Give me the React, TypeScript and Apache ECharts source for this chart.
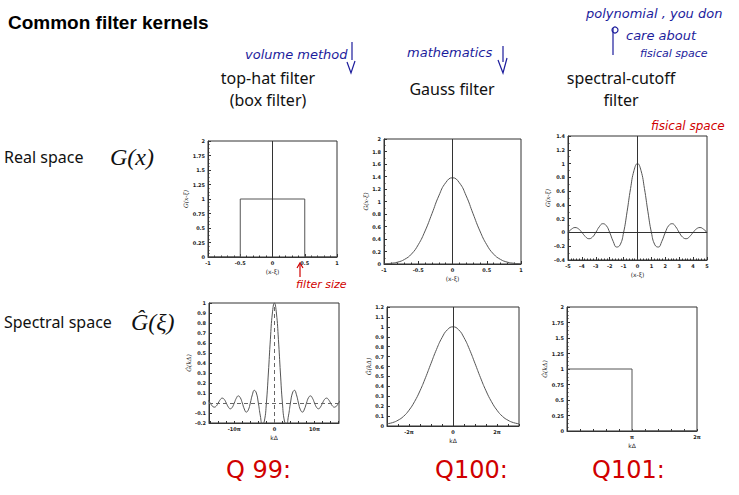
import React, { useEffect, useRef } from "react";
import * as echarts from "echarts";

// ---------- data ----------
// top-hat filter, real space
const topHatX = [-1, -0.5, -0.5, 0.5, 0.5, 1];
const topHatY = [0, 0, 1, 1, 0, 0];
// Gauss filter, real space
const gaussRealX = [-1, -0.9, -0.8, -0.7, -0.6, -0.5, -0.4, -0.3, -0.2, -0.1, 0, 0.1, 0.2, 0.3, 0.4, 0.5, 0.6, 0.7, 0.8, 0.9, 1];
const gaussRealY = [0.003, 0.011, 0.03, 0.074, 0.158, 0.308, 0.529, 0.805, 1.09, 1.3, 1.38, 1.3, 1.09, 0.805, 0.529, 0.308, 0.158, 0.074, 0.03, 0.011, 0.003];
// spectral cutoff, real space
const sincRealX = [-5, -4.75, -4.5, -4.25, -4, -3.75, -3.5, -3.25, -3, -2.75, -2.5, -2.25, -2, -1.75, -1.5, -1.25, -1, -0.75, -0.5, -0.25, 0, 0.25, 0.5, 0.75, 1, 1.25, 1.5, 1.75, 2, 2.25, 2.5, 2.75, 3, 3.25, 3.5, 3.75, 4, 4.25, 4.5, 4.75, 5];
const sincRealY = [0, 0.047, 0.071, 0.053, 0, -0.06, -0.091, -0.069, 0, 0.082, 0.127, 0.1, 0, -0.129, -0.212, -0.18, 0, 0.3, 0.637, 0.9, 1, 0.9, 0.637, 0.3, 0, -0.18, -0.212, -0.129, 0, 0.1, 0.127, 0.082, 0, -0.069, -0.091, -0.06, 0, 0.053, 0.071, 0.047, 0];
// top-hat, spectral space (x in units of pi)
const topHatSpecX = [-16.5, -16, -15.5, -15, -14.5, -14, -13.5, -13, -12.5, -12, -11.5, -11, -10.5, -10, -9.5, -9, -8.5, -8, -7.5, -7, -6.5, -6, -5.5, -5, -4.5, -4, -3.5, -3, -2.5, -2, -1.5, -1, -0.5, 0, 0.5, 1, 1.5, 2, 2.5, 3, 3.5, 4, 4.5, 5, 5.5, 6, 6.5, 7, 7.5, 8, 8.5, 9, 9.5, 10, 10.5, 11, 11.5, 12, 12.5, 13, 13.5, 14, 14.5, 15, 15.5, 16, 16.5];
const topHatSpecY = [0.027, 0, -0.029, -0.042, -0.031, 0, 0.033, 0.049, 0.036, 0, -0.039, -0.058, -0.043, 0, 0.047, 0.071, 0.053, 0, -0.06, -0.091, -0.069, 0, 0.082, 0.127, 0.1, 0, -0.129, -0.212, -0.18, 0, 0.3, 0.637, 0.9, 1, 0.9, 0.637, 0.3, 0, -0.18, -0.212, -0.129, 0, 0.1, 0.127, 0.082, 0, -0.069, -0.091, -0.06, 0, 0.053, 0.071, 0.047, 0, -0.043, -0.058, -0.039, 0, 0.036, 0.049, 0.033, 0, -0.031, -0.042, -0.029, 0, 0.027];
// Gauss, spectral space (x in units of pi)
const gaussSpecX = [-3, -2.75, -2.5, -2.25, -2, -1.75, -1.5, -1.25, -1, -0.75, -0.5, -0.25, 0, 0.25, 0.5, 0.75, 1, 1.25, 1.5, 1.75, 2, 2.25, 2.5, 2.75, 3];
const gaussSpecY = [0.022, 0.034, 0.058, 0.097, 0.159, 0.245, 0.355, 0.487, 0.631, 0.772, 0.891, 0.972, 1, 0.972, 0.891, 0.772, 0.631, 0.487, 0.355, 0.245, 0.159, 0.097, 0.058, 0.034, 0.022];
// spectral cutoff, spectral space (x in units of pi)
const cutoffSpecX = [0, 1, 1, 2];
const cutoffSpecY = [1, 1, 0, 0];

// tick labels
const specTicks4 = [-10, 0, 10];
const specLabels4 = ["-10π", "0", "10π"];
const specTicks5 = [-2, 0, 2];
const specLabels5 = ["-2π", "0", "2π"];
const specTicks6 = [1, 2];
const specLabels6 = ["π", "2π"];

const headers = [
  { lines: ["top-hat filter", "(box filter)"], x: 268 },
  { lines: ["Gauss filter"], x: 452 },
  { lines: ["spectral-cutoff", "filter"], x: 621 },
];

const grids = [
  { left: 208, top: 141, width: 129, height: 116 },
  { left: 384, top: 139, width: 137, height: 125 },
  { left: 568, top: 136, width: 139, height: 124 },
  { left: 209, top: 303, width: 130, height: 120 },
  { left: 387, top: 307, width: 132, height: 119 },
  { left: 567, top: 307, width: 130, height: 124 },
];

const pair = (xs: number[], ys: number[]) => xs.map((x, i) => [x, ys[i]]);

const FRAME = "#333";
const CURVE = "#555";
const BLUE = "#1c1c9c";
const RED = "#d00000";

function xAxis(i: number, o: any) {
  return {
    gridIndex: i,
    type: "value",
    nameLocation: "middle",
    nameGap: 11,
    nameTextStyle: { fontSize: 6, color: "#222", fontFamily: "DejaVu Sans" },
    axisLine: { show: true, onZero: false, lineStyle: { color: FRAME, width: 1 } },
    axisTick: { show: true, inside: true, length: 3, lineStyle: { color: FRAME } },
    minorTick: { show: true, splitNumber: 5, length: 1.5, lineStyle: { color: FRAME } },
    splitLine: { show: false },
    axisLabel: { fontSize: 5, color: "#222", margin: 3, fontFamily: "DejaVu Sans", fontWeight: "bold" },
    ...o,
  };
}
function yAxis(i: number, o: any) {
  return {
    gridIndex: i,
    type: "value",
    nameLocation: "middle",
    nameGap: 15,
    nameRotate: 90,
    nameTextStyle: { fontSize: 6, color: "#222", fontFamily: "DejaVu Serif", fontStyle: "italic" },
    axisLine: { show: true, onZero: false, lineStyle: { color: FRAME, width: 1 } },
    axisTick: { show: true, inside: true, length: 3, lineStyle: { color: FRAME } },
    minorTick: { show: true, splitNumber: 4, length: 1.5, lineStyle: { color: FRAME } },
    splitLine: { show: false },
    axisLabel: { fontSize: 5, color: "#222", margin: 3, fontFamily: "DejaVu Sans", fontWeight: "bold" },
    ...o,
  };
}

function lineSeries(i: number, data: number[][], smooth: boolean, mark?: any) {
  const s: any = {
    type: "line",
    xAxisIndex: i,
    yAxisIndex: i,
    data,
    smooth,
    symbol: "none",
    clip: true,
    lineStyle: { color: CURVE, width: 1 },
  };
  if (mark) {
    s.markLine = {
      silent: true,
      symbol: "none",
      label: { show: false },
      lineStyle: { color: FRAME, width: 1, type: "solid" },
      data: mark,
    };
  }
  return s;
}

export default function App() {
  const ref = useRef<HTMLDivElement>(null);
  useEffect(() => {
    if (!ref.current) return;
    const chart = echarts.init(ref.current, null, { renderer: "svg" });
    const custom = (vals: number[], labels: string[]) => ({
      axisLabel: {
        fontSize: 5, color: "#222", margin: 3, fontFamily: "DejaVu Sans", fontWeight: "bold",
        customValues: vals,
        formatter: (v: number) => labels[vals.indexOf(v)] ?? "",
      },
    });
    const graphic: any[] = [];
    const txt = (text: string, x: number, y: number, style: any) =>
      graphic.push({ type: "text", x, y, silent: true, style: { text, textVerticalAlign: "middle", ...style } });
    const ln = (x1: number, y1: number, x2: number, y2: number, color: string) =>
      graphic.push({ type: "line", silent: true, shape: { x1, y1, x2, y2 }, style: { stroke: color, lineWidth: 1.2 } });
    const poly = (points: number[][], color: string) =>
      graphic.push({ type: "polyline", silent: true, shape: { points }, style: { stroke: color, lineWidth: 1.2, fill: null } });

    txt("Common filter kernels", 8, 22, { fontSize: 19, fontWeight: "bold", fontFamily: "Liberation Sans", fill: "#000" });
    headers.forEach((h) => {
      if (h.lines.length === 2) {
        txt(h.lines[0], h.x, 78, { fontSize: 16, fontFamily: "Noto Sans", fill: "#111", textAlign: "center" });
        txt(h.lines[1], h.x, 100, { fontSize: 16, fontFamily: "Noto Sans", fill: "#111", textAlign: "center" });
      } else {
        txt(h.lines[0], h.x, 89, { fontSize: 16, fontFamily: "Noto Sans", fill: "#111", textAlign: "center" });
      }
    });
    txt("Real space", 4, 157, { fontSize: 16, fontFamily: "Noto Sans", fill: "#111" });
    txt("G(x)", 110, 157, { fontSize: 24, fontFamily: "Liberation Serif", fontStyle: "italic", fill: "#111" });
    txt("Spectral space", 4, 322, { fontSize: 16, fontFamily: "Noto Sans", fill: "#111" });
    txt("Ĝ(ξ)", 131, 322, { fontSize: 24, fontFamily: "Liberation Serif", fontStyle: "italic", fill: "#111" });

    // blue handwritten notes
    const hand = { fontSize: 13, fontFamily: "DejaVu Sans", fontStyle: "italic", fill: BLUE };
    txt("volume method", 245, 54, hand);
    ln(352, 42, 352, 60, BLUE);
    poly([[347, 62], [351, 73], [355, 61]], BLUE);
    txt("mathematics", 407, 52, hand);
    ln(503, 46, 503, 62, BLUE);
    poly([[498, 60], [503, 73], [507, 58]], BLUE);
    txt("polynomial , you don", 586, 13, hand);
    txt("care about", 626, 35, hand);
    txt("fisical space", 640, 53, { ...hand, fontSize: 11 });
    ln(613, 28, 613, 55, BLUE);
    graphic.push({ type: "circle", silent: true, shape: { cx: 615, cy: 30, r: 3 }, style: { stroke: BLUE, fill: null, lineWidth: 1.2 } });

    // red notes
    const redHand = { fontSize: 12, fontFamily: "DejaVu Sans", fontStyle: "italic", fill: RED };
    txt("fisical space", 651, 126, redHand);
    txt("filter size", 296, 284, { ...redHand, fontSize: 11 });
    ln(300, 264, 300, 277, RED);
    poly([[297, 268], [300, 263], [303, 268]], RED);
    const q = { fontSize: 24, fontFamily: "DejaVu Sans", fill: RED, textAlign: "left" };
    txt("Q 99:", 226, 470, q);
    txt("Q100:", 435, 470, q);
    txt("Q101:", 592, 470, q);

    chart.setOption({
      animation: false,
      backgroundColor: "#fff",
      grid: grids.map((g) => ({ ...g, show: true, borderColor: FRAME, borderWidth: 1, backgroundColor: "transparent" })),
      xAxis: [
        xAxis(0, { min: -1, max: 1, interval: 0.5, name: "(x-ξ)" }),
        xAxis(1, { min: -1, max: 1, interval: 0.5, name: "(x-ξ)" }),
        xAxis(2, { min: -5, max: 5, interval: 1, name: "(x-ξ)" }),
        xAxis(3, {
          min: -16.3, max: 16.1, name: "kΔ", ...custom(specTicks4, specLabels4),
          axisTick: { show: true, inside: true, length: 2, customValues: [-16, -14, -12, -10, -8, -6, -4, -2, 0, 2, 4, 6, 8, 10, 12, 14, 16], lineStyle: { color: FRAME } },
          minorTick: { show: false },
        }),
        xAxis(4, {
          min: -3, max: 3, name: "kΔ", ...custom(specTicks5, specLabels5),
          axisTick: { show: true, inside: true, length: 2, customValues: [-3, -2.5, -2, -1.5, -1, -0.5, 0, 0.5, 1, 1.5, 2, 2.5, 3], lineStyle: { color: FRAME } },
          minorTick: { show: false },
        }),
        xAxis(5, {
          min: 0, max: 2, name: "kΔ", ...custom(specTicks6, specLabels6),
          axisTick: { show: true, inside: true, length: 2, customValues: [0, 0.2, 0.4, 0.6, 0.8, 1, 1.2, 1.4, 1.6, 1.8, 2], lineStyle: { color: FRAME } },
          minorTick: { show: false },
        }),
      ],
      yAxis: [
        yAxis(0, { min: 0, max: 2, interval: 0.25, name: "G(x-ξ)" }),
        yAxis(1, { min: 0, max: 2, interval: 0.2, name: "G(x-ξ)", minorTick: { show: true, splitNumber: 2, length: 1.5, lineStyle: { color: FRAME } } }),
        yAxis(2, { min: -0.4, max: 1.4, interval: 0.2, name: "G(x-ξ)", nameGap: 17, minorTick: { show: true, splitNumber: 2, length: 1.5, lineStyle: { color: FRAME } } }),
        yAxis(3, { min: -0.2, max: 1, interval: 0.1, name: "Ĝ(kΔ)", nameGap: 17, minorTick: { show: false } }),
        yAxis(4, { min: 0, max: 1.2, interval: 0.1, name: "Ĝ(kΔ)", minorTick: { show: false } }),
        yAxis(5, { min: 0, max: 2, interval: 0.25, name: "Ĝ(kΔ)", nameGap: 17 }),
      ],
      series: [
        lineSeries(0, pair(topHatX, topHatY), false, [{ xAxis: 0 }]),
        lineSeries(1, pair(gaussRealX, gaussRealY), true, [{ xAxis: 0 }]),
        lineSeries(2, pair(sincRealX, sincRealY), true, [{ xAxis: 0 }, { yAxis: 0 }]),
        {
          ...lineSeries(3, pair(topHatSpecX, topHatSpecY), true),
          markLine: {
            silent: true, symbol: "none", label: { show: false },
            lineStyle: { color: "#666", width: 1, type: [4, 3] },
            data: [{ yAxis: 0 }, { xAxis: 0 }],
          },
        },
        lineSeries(4, pair(gaussSpecX, gaussSpecY), true, [{ xAxis: 0 }]),
        lineSeries(5, pair(cutoffSpecX, cutoffSpecY), false),
      ],
      graphic,
    });
    return () => chart.dispose();
  }, []);
  return (
    <div
      ref={ref}
      style={{ position: "absolute", left: 0, top: 0, width: 739, height: 495, background: "#fff" }}
    />
  );
}
